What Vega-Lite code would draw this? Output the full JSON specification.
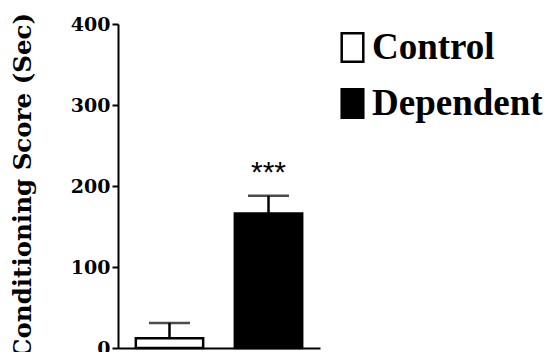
{
  "$schema": "https://vega.github.io/schema/vega-lite/v6.json",
  "autosize": {"type": "none"},
  "padding": {"left": 118, "top": 24, "right": 230, "bottom": 4},
  "width": 202,
  "height": 324,
  "background": "white",
  "data": {"values": [
    {"group": "Control", "value": 12, "upper": 31, "label": ""},
    {"group": "Dependent", "value": 166, "upper": 188, "label": "***"}
  ]},
  "config": {
    "view": {"stroke": null},
    "axis": {"grid": false, "domainColor": "black", "domainWidth": 2, "tickColor": "black", "tickWidth": 2}
  },
  "encoding": {
    "x": {"field": "group", "type": "nominal", "sort": ["Control", "Dependent"],
      "scale": {"paddingInner": 0.32, "paddingOuter": 0.18},
      "axis": {"labels": false, "ticks": false, "title": null, "domainWidth": 2}}
  },
  "layer": [
    {
      "mark": {"type": "bar", "stroke": "black", "strokeWidth": 2.5},
      "encoding": {
        "y": {"field": "value", "type": "quantitative",
          "scale": {"domain": [0, 400], "nice": false},
          "axis": {"values": [0, 100, 200, 300, 400], "tickSize": 6, "labelPadding": 2,
            "labelFont": "DejaVu Serif", "labelFontWeight": "bold", "labelFontSize": 19, "labelColor": "black",
            "title": "Conditioning Score (Sec)", "titleFont": "DejaVu Serif", "titleFontWeight": "bold",
            "titleFontSize": 24.5, "titleColor": "black", "titleAngle": -90, "titleX": -95, "titleY": 161,
            "titleAlign": "center", "titleBaseline": "middle"}},
        "fill": {"field": "group", "type": "nominal",
          "scale": {"domain": ["Control", "Dependent"], "range": ["white", "black"]},
          "legend": {"title": null, "orient": "none", "legendX": 216, "legendY": 5,
            "symbolType": "M-0.72,-0.95H0.72V0.95H-0.72Z", "symbolSize": 900,
            "symbolStrokeColor": "black", "symbolStrokeWidth": 2.5, "symbolOpacity": 1,
            "labelFont": "Liberation Serif", "labelFontWeight": "bold", "labelFontSize": 37,
            "labelColor": "black", "labelOffset": 1, "rowPadding": 17, "labelLimit": 400}}
      }
    },
    {
      "mark": {"type": "rule", "color": "black", "strokeWidth": 2.5},
      "encoding": {
        "y": {"field": "value", "type": "quantitative"},
        "y2": {"field": "upper"}
      }
    },
    {
      "mark": {"type": "tick", "color": "black", "size": 41, "thickness": 2.5, "orient": "horizontal"},
      "encoding": {
        "y": {"field": "upper", "type": "quantitative"}
      }
    },
    {
      "mark": {"type": "text", "font": "Liberation Sans", "fontSize": 30, "color": "black", "baseline": "middle", "dy": -23},
      "encoding": {
        "y": {"field": "upper", "type": "quantitative"},
        "text": {"field": "label"}
      }
    }
  ]
}
